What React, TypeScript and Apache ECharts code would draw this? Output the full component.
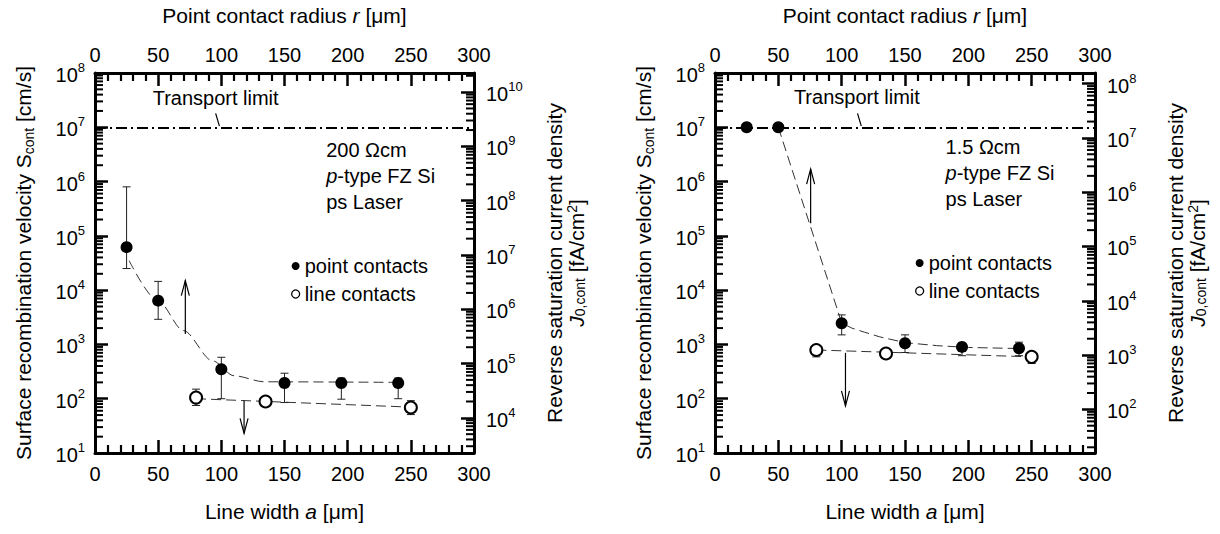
import { useEffect, useRef } from 'react';
import * as echarts from 'echarts';

const FONT = 'Liberation Sans';

// ---- shared axes ----
const X_MIN = 0;
const X_MAX = 300;
const X_STEP = 50;
const X_MINOR_STEP = 10;
const S_MIN = 10;
const S_MAX = 1e8;
const TRANSPORT_LIMIT = 1e7;

// ---- left panel: 200 Ωcm ----
const L_J_FACTOR = 225; // J0 [fA/cm²] per S [cm/s]
const L_PC_R = [25, 50, 100, 150, 195, 240];
const L_PC_S = [6.2e4, 6.4e3, 350, 195, 195, 195];
const L_PC_LO = [2.5e4, 2.9e3, 100, 85, 98, 100];
const L_PC_HI = [8e5, 1.45e4, 580, 295, 240, 240];
const L_LC_A = [80, 135, 250];
const L_LC_S = [105, 89, 69];
const L_LC_LO = [75, 79, 51];
const L_LC_HI = [150, 101, 92];
const L_PC_FIT_R = [27, 50, 70, 93, 110, 134, 240];
const L_PC_FIT_S = [3.5e4, 6.3e3, 1.8e3, 500, 265, 205, 200];
const L_LC_FIT_A = [80, 250];
const L_LC_FIT_S = [100, 70];
const L_ARROWS = [
  [71.5, 1.55e3, 1.5e4],
  [118, 92, 23],
];
const L_LEADER = [
  [95.5, 1.8e7],
  [98.5, 1.05e7],
];
const L_TEXT = ['Transport limit', '200 Ωcm', '{i|p}-type FZ Si', 'ps Laser'];
const L_TEXT_X = [95.5, 183, 183, 183];
const L_TEXT_S = [3.5e7, 3.8e6, 1.26e6, 4.2e5];

// ---- right panel: 1.5 Ωcm ----
const R_J_FACTOR = 1.57;
const R_PC_R = [25, 50, 100, 150, 195, 240];
const R_PC_S = [1e7, 1e7, 2.45e3, 1.05e3, 900, 850];
const R_PC_LO = [null, null, 1.5e3, 710, 620, 620];
const R_PC_HI = [null, null, 3.5e3, 1.5e3, 1.05e3, 1.1e3];
const R_LC_A = [80, 135, 250];
const R_LC_S = [790, 680, 590];
const R_LC_LO = [590, 560, 445];
const R_LC_HI = [940, 820, 710];
const R_PC_FIT_R = [50, 100, 108, 118, 130, 150, 175, 200, 240];
const R_PC_FIT_S = [1e7, 2.5e3, 2.0e3, 1.68e3, 1.38e3, 1.08e3, 950, 880, 840];
const R_LC_FIT_A = [80, 250];
const R_LC_FIT_S = [790, 590];
const R_ARROWS = [
  [75.5, 1.7e5, 1.7e6],
  [103, 700, 74],
];
const R_LEADER = [
  [112.5, 1.8e7],
  [115.5, 1.05e7],
];
const R_TEXT = ['Transport limit', '1.5 Ωcm', '{i|p}-type FZ Si', 'ps Laser'];
const R_TEXT_X = [112, 182, 182, 182];
const R_TEXT_S = [3.6e7, 4.4e6, 1.45e6, 4.8e5];

const PANELS = [
  {
    grid: { left: 95, top: 73, width: 379, height: 380 },
    legend: { left: 291, top: 256 },
    smooth: 0.3,
    factor: L_J_FACTOR,
    pcR: L_PC_R, pcS: L_PC_S, pcLo: L_PC_LO, pcHi: L_PC_HI,
    lcA: L_LC_A, lcS: L_LC_S, lcLo: L_LC_LO, lcHi: L_LC_HI,
    pcFitR: L_PC_FIT_R, pcFitS: L_PC_FIT_S, lcFitA: L_LC_FIT_A, lcFitS: L_LC_FIT_S,
    arrows: L_ARROWS, leader: L_LEADER,
    text: L_TEXT, textX: L_TEXT_X, textS: L_TEXT_S,
  },
  {
    grid: { left: 715, top: 73, width: 380, height: 380 },
    legend: { left: 915, top: 253 },
    smooth: false,
    factor: R_J_FACTOR,
    pcR: R_PC_R, pcS: R_PC_S, pcLo: R_PC_LO, pcHi: R_PC_HI,
    lcA: R_LC_A, lcS: R_LC_S, lcLo: R_LC_LO, lcHi: R_LC_HI,
    pcFitR: R_PC_FIT_R, pcFitS: R_PC_FIT_S, lcFitA: R_LC_FIT_A, lcFitS: R_LC_FIT_S,
    arrows: R_ARROWS, leader: R_LEADER,
    text: R_TEXT, textX: R_TEXT_X, textS: R_TEXT_S,
  },
];

const BLACK = '#000';

function logLabel(v: number) {
  const e = Math.log10(v);
  const r = Math.round(e);
  if (Math.abs(e - r) > 1e-6) return '';
  return `{b|10}{s|${r}}`;
}

const supRich = {
  b: { fontSize: 20, lineHeight: 24, verticalAlign: 'bottom', fontFamily: FONT, color: BLACK },
  s: { fontSize: 13, lineHeight: 15, verticalAlign: 'top', fontFamily: FONT, color: BLACK },
};

const NAME_SIZE = 21;
const nameStyle = (lh: number) => ({
  fontSize: NAME_SIZE,
  fontFamily: FONT,
  color: BLACK,
  lineHeight: lh,
  rich: {
    i: { fontStyle: 'italic', fontSize: NAME_SIZE, fontFamily: FONT, color: BLACK, lineHeight: lh },
    sub: { fontSize: 14, fontFamily: FONT, color: BLACK, lineHeight: 14, verticalAlign: 'bottom' },
    sup: { fontSize: 14, fontFamily: FONT, color: BLACK, lineHeight: 14, verticalAlign: 'top' },
  },
});

const axisLine = { show: true, onZero: false, lineStyle: { color: BLACK, width: 3 } };
const majorTick = { show: true, inside: true, length: 13, lineStyle: { color: BLACK, width: 2.5 } };

function xAxis(gridIndex: number, position: string, name: string, gap: number, margin: number) {
  return {
    type: 'value',
    gridIndex,
    position,
    min: X_MIN,
    max: X_MAX,
    interval: X_STEP,
    name,
    nameLocation: 'middle',
    nameGap: gap,
    nameTextStyle: nameStyle(24),
    axisLine,
    axisTick: majorTick,
    minorTick: { show: true, splitNumber: X_STEP / X_MINOR_STEP, length: 8, lineStyle: { color: BLACK, width: 2.2 } },
    splitLine: { show: false },
    minorSplitLine: { show: false },
    axisLabel: { fontSize: 20, fontFamily: FONT, color: BLACK, margin },
  };
}

function yAxis(gridIndex: number, position: string, min: number, max: number, name: string, gap: number, margin: number, lh: number) {
  return {
    type: 'log',
    logBase: 10,
    gridIndex,
    position,
    min,
    max,
    name,
    nameLocation: 'middle',
    nameGap: gap,
    nameRotate: 90,
    nameTextStyle: nameStyle(lh),
    axisLine,
    axisTick: majorTick,
    splitLine: { show: false },
    axisLabel: { formatter: logLabel, rich: supRich, margin },
  };
}

function minorLogValues(min: number, max: number) {
  const out: number[] = [];
  for (let n = Math.floor(Math.log10(min)); n <= Math.ceil(Math.log10(max)); n++) {
    for (let m = 2; m <= 9; m++) {
      const v = m * Math.pow(10, n);
      if (v > min && v < max) out.push(v);
    }
  }
  return out;
}

// log minor ticks drawn through the axis scale: data = [x, y], dx = tick length in px
function tickSeries(xAxisIndex: number, yAxisIndex: number, data: number[][], dx: number) {
  return {
    type: 'custom',
    coordinateSystem: 'cartesian2d',
    xAxisIndex,
    yAxisIndex,
    data,
    encode: { x: 0, y: 1 },
    silent: true,
    clip: false,
    z: 20,
    renderItem: (params: any, api: any) => {
      const c = api.coord([api.value(0), api.value(1)]);
      return {
        type: 'line',
        shape: { x1: c[0], y1: c[1], x2: c[0] + dx, y2: c[1] },
        style: { stroke: BLACK, lineWidth: 2 },
      };
    },
  };
}

function buildOption() {
  const grid: any[] = [];
  const xAxes: any[] = [];
  const yAxes: any[] = [];
  const series: any[] = [];
  const legends: any[] = [];

  PANELS.forEach((p, k) => {
    grid.push({ ...p.grid, outerBoundsMode: 'none', containLabel: false });
    const xb = 2 * k;
    const xt = 2 * k + 1;
    const yS = 2 * k;
    const yJ = 2 * k + 1;
    xAxes.push(xAxis(k, 'bottom', 'Line width {i|a} [μm]', 46, 11));
    xAxes.push(xAxis(k, 'top', 'Point contact radius {i|r} [μm]', 46, 8));
    yAxes.push(yAxis(k, 'left', S_MIN, S_MAX, 'Surface recombination velocity S{sub|cont} [cm/s]', 59, 10, 26));
    yAxes.push(
      yAxis(k, 'right', S_MIN * p.factor, S_MAX * p.factor,
        'Reverse saturation current density\n{i|J}{sub|0,cont} [fA/cm{sup|2}]', 69, 12, 22)
    );

    const dashed = { color: '#333', width: 1, type: [10, 5] };

    series.push({
      type: 'line',
      xAxisIndex: xt,
      yAxisIndex: yS,
      data: p.pcFitR.map((x, i) => [x, p.pcFitS[i]]),
      symbol: 'none',
      smooth: p.smooth,
      smoothMonotone: 'x',
      lineStyle: dashed,
      silent: true,
      z: 1,
      markLine: {
        silent: true,
        symbol: ['none', 'none'],
        label: { show: false },
        lineStyle: { color: BLACK, width: 1.8, type: [11, 4, 2, 4] },
        data: [
          { yAxis: TRANSPORT_LIMIT },
          [
            { coord: p.leader[0], lineStyle: { type: 'solid', width: 1.2, color: BLACK } },
            { coord: p.leader[1] },
          ],
        ],
      },
    });
    series.push({
      type: 'line',
      xAxisIndex: xb,
      yAxisIndex: yS,
      data: p.lcFitA.map((x, i) => [x, p.lcFitS[i]]),
      symbol: 'none',
      lineStyle: dashed,
      silent: true,
      z: 1,
    });

    const errItem = (params: any, api: any) => {
      const x = api.value(0);
      const a = api.coord([x, api.value(1)]);
      const b = api.coord([x, api.value(2)]);
      const w = 4;
      const st = { stroke: '#222', lineWidth: 1 };
      return {
        type: 'group',
        children: [
          { type: 'line', shape: { x1: a[0], y1: a[1], x2: b[0], y2: b[1] }, style: st },
          { type: 'line', shape: { x1: a[0] - w, y1: a[1], x2: a[0] + w, y2: a[1] }, style: st },
          { type: 'line', shape: { x1: b[0] - w, y1: b[1], x2: b[0] + w, y2: b[1] }, style: st },
        ],
      };
    };
    series.push({
      type: 'custom',
      coordinateSystem: 'cartesian2d',
      xAxisIndex: xt,
      yAxisIndex: yS,
      data: p.pcR.map((x, i) => [x, p.pcLo[i], p.pcHi[i]]).filter((d) => d[1] != null),
      encode: { x: 0, y: [1, 2] },
      renderItem: errItem,
      silent: true,
      z: 2,
    });
    series.push({
      type: 'custom',
      coordinateSystem: 'cartesian2d',
      xAxisIndex: xb,
      yAxisIndex: yS,
      data: p.lcA.map((x, i) => [x, p.lcLo[i], p.lcHi[i]]),
      encode: { x: 0, y: [1, 2] },
      renderItem: errItem,
      silent: true,
      z: 2,
    });

    series.push({
      name: 'point contacts',
      type: 'scatter',
      xAxisIndex: xt,
      yAxisIndex: yS,
      data: p.pcR.map((x, i) => [x, p.pcS[i]]),
      symbol: 'circle',
      symbolSize: 12,
      itemStyle: { color: BLACK, opacity: 1 },
      silent: true,
      z: 5,
    });
    series.push({
      name: 'line contacts',
      type: 'scatter',
      xAxisIndex: xb,
      yAxisIndex: yS,
      data: p.lcA.map((x, i) => [x, p.lcS[i]]),
      symbol: 'circle',
      symbolSize: 12,
      itemStyle: { color: '#fff', borderColor: BLACK, borderWidth: 2, opacity: 1 },
      silent: true,
      z: 5,
    });

    // arrows
    series.push({
      type: 'custom',
      coordinateSystem: 'cartesian2d',
      xAxisIndex: xb,
      yAxisIndex: yS,
      data: p.arrows,
      encode: { x: 0, y: [1, 2] },
      silent: true,
      z: 4,
      renderItem: (params: any, api: any) => {
        const x = api.value(0);
        const t = api.coord([x, api.value(1)]);
        const h = api.coord([x, api.value(2)]);
        const dir = h[1] > t[1] ? 1 : -1;
        const hl = 15;
        const hw = 4;
        const st = { stroke: BLACK, lineWidth: 1.2, fill: 'none' };
        return {
          type: 'group',
          children: [
            { type: 'line', shape: { x1: t[0], y1: t[1], x2: h[0], y2: h[1] }, style: st },
            {
              type: 'polyline',
              shape: { points: [[h[0] - hw, h[1] - dir * hl], [h[0], h[1]], [h[0] + hw, h[1] - dir * hl]] },
              style: st,
            },
          ],
        };
      },
    });

    // log-axis minor ticks
    series.push(tickSeries(xb, yS, minorLogValues(S_MIN, S_MAX).map((v) => [X_MIN, v]), 8));
    series.push(tickSeries(xb, yJ, minorLogValues(S_MIN * p.factor, S_MAX * p.factor).map((v) => [X_MAX, v]), -8));

    // annotation texts
    series.push({
      type: 'custom',
      coordinateSystem: 'cartesian2d',
      xAxisIndex: xb,
      yAxisIndex: yS,
      data: p.textX.map((x, i) => [x, p.textS[i]]),
      silent: true,
      z: 7,
      renderItem: (params: any, api: any) => {
        const c = api.coord([api.value(0), api.value(1)]);
        const i = params.dataIndex;
        return {
          type: 'text',
          style: {
            x: c[0],
            y: c[1],
            text: p.text[i],
            fill: BLACK,
            fontSize: 20,
            fontFamily: FONT,
            align: i === 0 ? 'center' : 'left',
            verticalAlign: 'middle',
            rich: { i: { fontStyle: 'italic', fontSize: 20, fontFamily: FONT, fill: BLACK, color: BLACK } },
          },
        };
      },
    });

    legends.push({
      ...p.legend,
      orient: 'vertical',
      padding: 0,
      itemWidth: 8,
      itemHeight: 8,
      itemGap: 8,
      selectedMode: false,
      textStyle: { fontSize: 20, fontFamily: FONT, color: BLACK, lineHeight: 20 },
      data: [
        { name: 'point contacts', icon: 'circle', itemStyle: { color: BLACK, borderWidth: 0 } },
        { name: 'line contacts', icon: 'circle', itemStyle: { color: '#fff', borderColor: BLACK, borderWidth: 1.3 } },
      ],
    });
  });

  return {
    animation: false,
    backgroundColor: '#fff',
    textStyle: { fontFamily: FONT, color: BLACK },
    grid,
    xAxis: xAxes,
    yAxis: yAxes,
    legend: legends,
    series,
  };
}

export default function App() {
  const ref = useRef<HTMLDivElement>(null);
  useEffect(() => {
    if (!ref.current) return;
    const chart = echarts.init(ref.current, undefined, { renderer: 'svg' });
    chart.setOption(buildOption() as any);
    return () => chart.dispose();
  }, []);
  return (
    <div
      ref={ref}
      style={{ position: 'absolute', left: 0, top: 0, width: 1220, height: 534, background: '#fff' }}
    />
  );
}
